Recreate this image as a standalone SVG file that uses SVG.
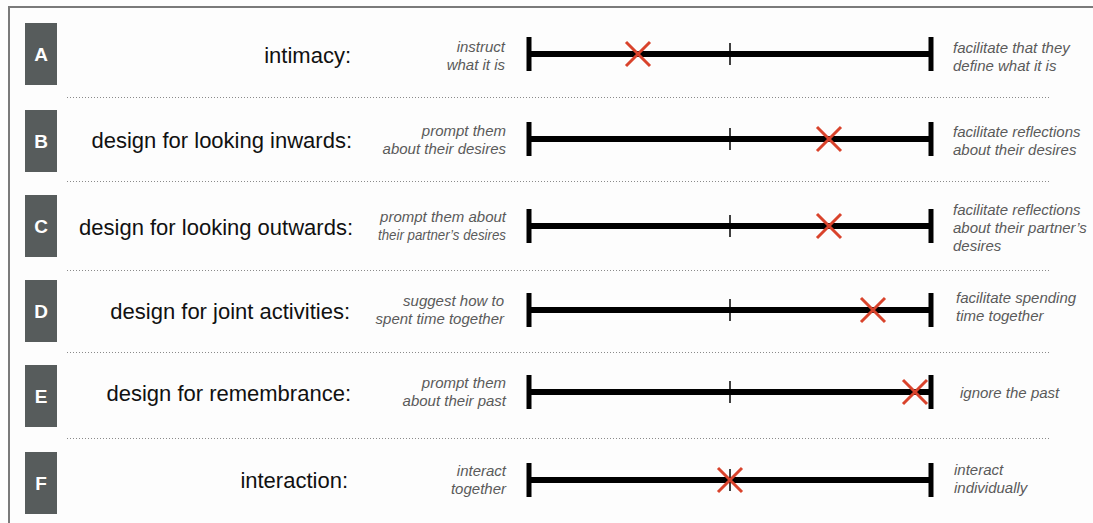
<svg xmlns="http://www.w3.org/2000/svg" width="1093" height="523" viewBox="0 0 1093 523">
<defs>
<style>
.bg{fill:#fdfdfd}
.frame{stroke:#7a7a7a;stroke-width:2;fill:none}
.box{fill:#575c5c}
.letter{font-family:"Liberation Sans",Arial,sans-serif;font-weight:bold;font-size:19px;fill:#ffffff;text-anchor:middle}
.title{font-family:"Liberation Sans",Arial,sans-serif;font-size:22px;fill:#111111;text-anchor:end}
.lab{font-family:"Liberation Sans",Arial,sans-serif;font-style:italic;font-size:15px;fill:#5a5a5a}
.l{text-anchor:end}
.dot{stroke:#8a8a8a;stroke-width:1;stroke-dasharray:1 2;fill:none}
.axis{stroke:#000;stroke-width:6;fill:none}
.end{stroke:#000;stroke-width:5;fill:none}
.mid{stroke:#000;stroke-width:1.5;fill:none}
.x{stroke:#d9432c;stroke-width:3;fill:none}
</style>
<g id="scale">
<line class="axis" x1="527" y1="0" x2="932" y2="0"/>
<line class="end" x1="529" y1="-17" x2="529" y2="17"/>
<line class="end" x1="931" y1="-17" x2="931" y2="17"/>
<line class="mid" x1="730" y1="-11" x2="730" y2="11"/>
</g>
<path id="cross" class="x" d="M-12,-12L12,12M12,-12L-12,12"/>
</defs>
<rect class="bg" x="0" y="0" width="1093" height="523"/>
<path class="frame" d="M1093,7H9V523"/>
<g id="separators">
<line class="dot" x1="67" y1="97.5" x2="1051" y2="97.5"/>
<line class="dot" x1="67" y1="181.5" x2="1051" y2="181.5"/>
<line class="dot" x1="67" y1="270.5" x2="1051" y2="270.5"/>
<line class="dot" x1="67" y1="352.5" x2="1051" y2="352.5"/>
<line class="dot" x1="67" y1="438.5" x2="1051" y2="438.5"/>
</g>
<g id="rowA">
<rect class="box" x="25" y="23" width="32" height="62"/>
<text class="letter" x="41" y="61">A</text>
<text class="title" x="351" y="63">intimacy:</text>
<text class="lab l" x="505" y="52">instruct</text>
<text class="lab l" x="505" y="70">what it is</text>
<use href="#scale" y="54"/>
<use href="#cross" x="638" y="54"/>
<text class="lab" x="953" y="53">facilitate that they</text>
<text class="lab" x="953" y="71">define what it is</text>
</g>
<g id="rowB">
<rect class="box" x="25" y="110" width="32" height="62"/>
<text class="letter" x="41" y="148">B</text>
<text class="title" x="352" y="148">design for looking inwards:</text>
<text class="lab l" x="506" y="136">prompt them</text>
<text class="lab l" x="506" y="154">about their desires</text>
<use href="#scale" y="139"/>
<use href="#cross" x="829" y="139"/>
<text class="lab" x="953" y="137">facilitate reflections</text>
<text class="lab" x="953" y="155">about their desires</text>
</g>
<g id="rowC">
<rect class="box" x="25" y="195" width="32" height="62"/>
<text class="letter" x="41" y="233">C</text>
<text class="title" x="353" y="235">design for looking outwards:</text>
<text class="lab l" x="506" y="222">prompt them about</text>
<text class="lab l" x="506" y="240" textLength="128" lengthAdjust="spacingAndGlyphs">their partner’s desires</text>
<use href="#scale" y="226"/>
<use href="#cross" x="829" y="226"/>
<text class="lab" x="953" y="215">facilitate reflections</text>
<text class="lab" x="953" y="233">about their partner’s</text>
<text class="lab" x="953" y="251">desires</text>
</g>
<g id="rowD">
<rect class="box" x="25" y="280" width="32" height="62"/>
<text class="letter" x="41" y="318">D</text>
<text class="title" x="350" y="319">design for joint activities:</text>
<text class="lab l" x="504" y="306">suggest how to</text>
<text class="lab l" x="504" y="324">spent time together</text>
<use href="#scale" y="310"/>
<use href="#cross" x="873" y="310"/>
<text class="lab" x="956" y="303">facilitate spending</text>
<text class="lab" x="956" y="321">time together</text>
</g>
<g id="rowE">
<rect class="box" x="25" y="365" width="32" height="62"/>
<text class="letter" x="41" y="403">E</text>
<text class="title" x="351" y="401">design for remembrance:</text>
<text class="lab l" x="506" y="388">prompt them</text>
<text class="lab l" x="506" y="406">about their past</text>
<use href="#scale" y="392"/>
<use href="#cross" x="915" y="392"/>
<text class="lab" x="960" y="398">ignore the past</text>
</g>
<g id="rowF">
<rect class="box" x="25" y="452" width="32" height="62"/>
<text class="letter" x="41" y="490">F</text>
<text class="title" x="348" y="488">interaction:</text>
<text class="lab l" x="506" y="476">interact</text>
<text class="lab l" x="506" y="494">together</text>
<use href="#scale" y="480"/>
<use href="#cross" x="730" y="480"/>
<text class="lab" x="954" y="475">interact</text>
<text class="lab" x="954" y="493">individually</text>
</g>
</svg>
